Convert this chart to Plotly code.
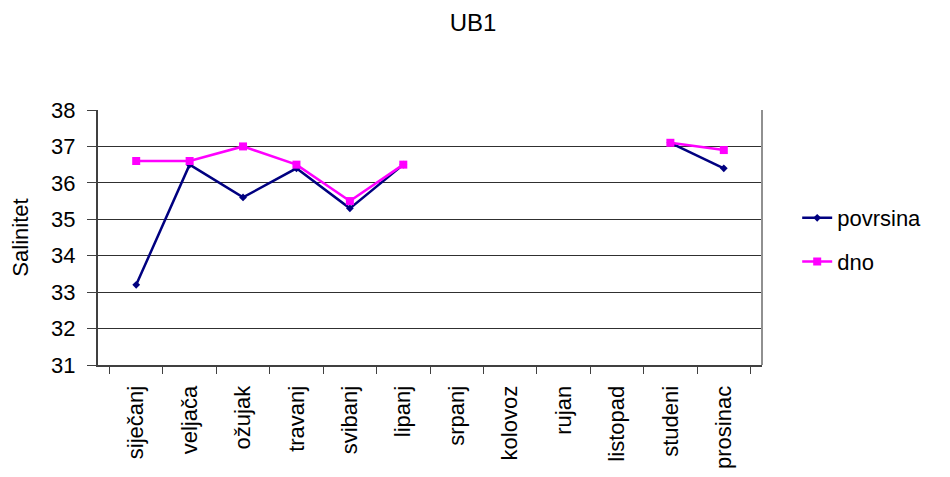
import plotly.graph_objects as go

months = ["siječanj", "veljača", "ožujak", "travanj", "svibanj", "lipanj",
          "srpanj", "kolovoz", "rujan", "listopad", "studeni", "prosinac"]
povrsina = [33.2, 36.5, 35.6, 36.4, 35.3, 36.5, None, None, None, None, 37.1, 36.4]
dno = [36.6, 36.6, 37.0, 36.5, 35.5, 36.5, None, None, None, None, 37.1, 36.9]

FONT = "Liberation Sans, Arial, sans-serif"

fig = go.Figure()

fig.add_trace(go.Scatter(
    x=months, y=povrsina, name="povrsina", mode="lines+markers",
    line=dict(color="#000080", width=2.5),
    marker=dict(symbol="diamond", size=6, color="#000080"),
    legendgroup="a", connectgaps=False
))
fig.add_trace(go.Scatter(
    x=months, y=dno, name="dno", mode="lines+markers",
    line=dict(color="#FF00FF", width=2.5),
    marker=dict(symbol="square", size=8, color="#FF00FF"),
    legendgroup="b", connectgaps=False
))

# page body adds 8px offset, margins compensate for it
fig.update_layout(
    width=950, height=477,
    margin=dict(l=90, r=196, t=102, b=120),
    paper_bgcolor="white", plot_bgcolor="white",
    font=dict(family=FONT, size=22, color="black"),
    title=dict(text="UB1", x=0.4895, xref="container", xanchor="center",
               y=0.969, yref="container", yanchor="middle",
               font=dict(size=24)),
    legend=dict(x=1.053, y=0.49, yanchor="middle", xanchor="left",
                traceorder="grouped", tracegroupgap=12,
                font=dict(size=22), bgcolor="rgba(0,0,0,0)"),
    showlegend=True,
)

fig.update_xaxes(
    type="category", tickangle=-90, tickson="boundaries",
    ticks="outside", ticklen=7, tickcolor="#404040",
    showline=True, linecolor="#404040", linewidth=2,
    showgrid=False, automargin=False,
    tickfont=dict(size=22), ticklabelstandoff=10,
)
fig.update_yaxes(
    range=[31, 38], dtick=1, ticks="outside", ticklen=9, tickcolor="#404040",
    showline=True, linecolor="#404040", linewidth=2,
    showgrid=True, gridcolor="#303030", gridwidth=1,
    zeroline=False, automargin=False,
    title=dict(text="Salinitet", font=dict(size=22), standoff=16),
    tickfont=dict(size=22), ticklabelstandoff=7,
)

# gray right border of plot area
fig.add_shape(type="line", xref="paper", yref="paper", x0=1, x1=1, y0=0, y1=1,
              line=dict(color="#909090", width=2))

fig.write_html("out.html")
